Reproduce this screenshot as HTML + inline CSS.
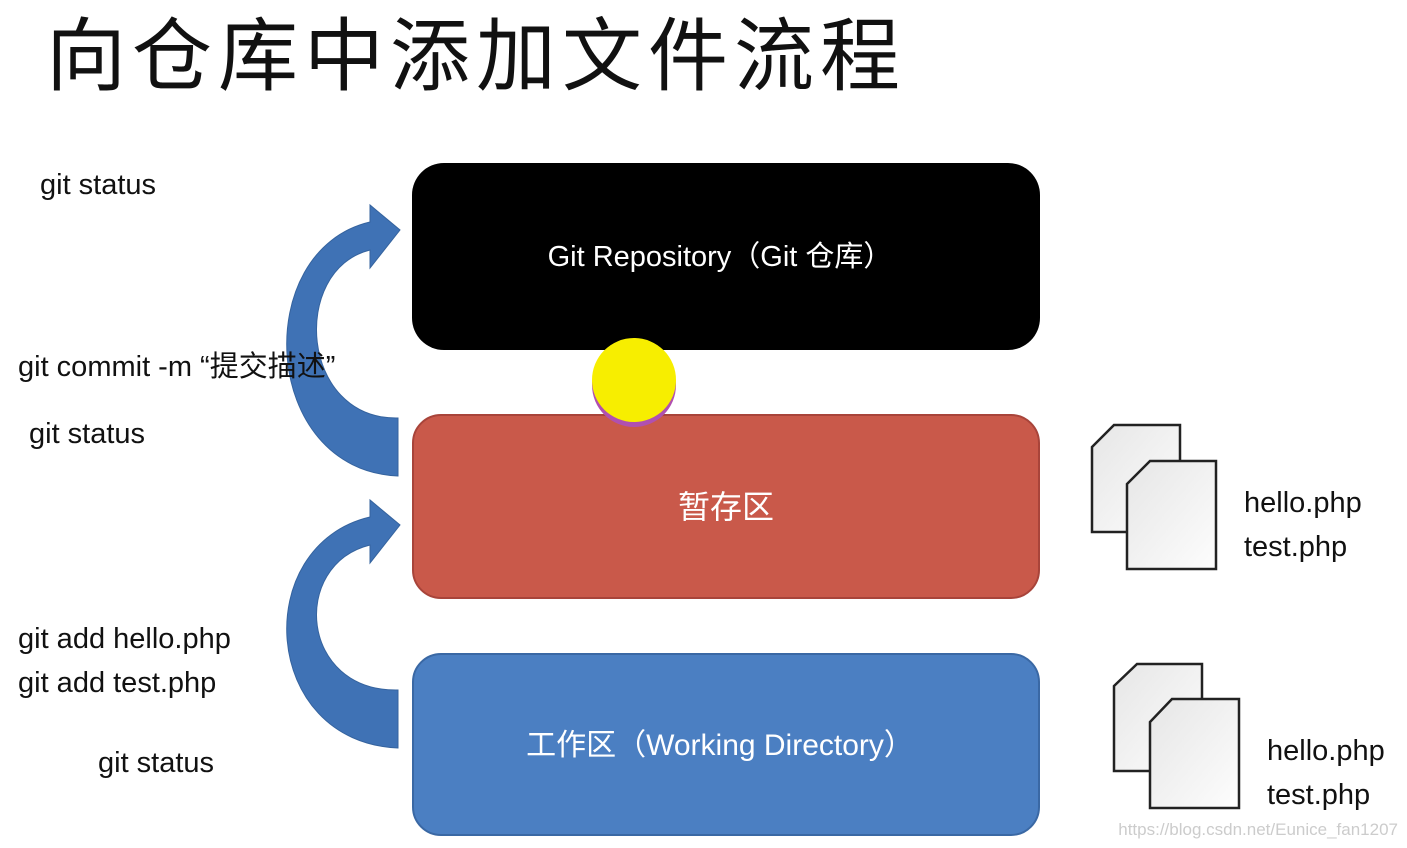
<!DOCTYPE html>
<html><head><meta charset="utf-8"><style>
html,body{margin:0;padding:0;background:#fff;width:1407px;height:848px;overflow:hidden}
svg{display:block}
text{font-family:"Liberation Sans","Noto Sans CJK SC",sans-serif}
</style></head><body>
<svg width="1407" height="848" viewBox="0 0 1407 848">
<defs>
<linearGradient id="pg" x1="0" y1="0" x2="1" y2="1"><stop offset="0" stop-color="#e6e6e6"/><stop offset="1" stop-color="#fdfdfd"/></linearGradient>
</defs>
<text x="46" y="84" font-size="80" fill="#111" font-family="Noto Sans CJK SC, sans-serif" letter-spacing="6">向仓库中添加文件流程</text>

<rect x="412" y="163" width="628" height="187" rx="32" fill="#000"/>
<text x="720" y="266" font-size="29" fill="#fff" text-anchor="middle">Git Repository（Git 仓库）</text>
<rect x="413" y="415" width="626" height="183" rx="28" fill="#c9594a" stroke="#a8443a" stroke-width="2"/>
<text x="726" y="518" font-size="32" fill="#fff" text-anchor="middle">暂存区</text>
<rect x="413" y="654" width="626" height="181" rx="28" fill="#4b7fc2" stroke="#3a68a4" stroke-width="2"/>
<text x="720" y="755" font-size="30" fill="#fff" text-anchor="middle">工作区（Working Directory）</text>

<path d="M398,476 C260,470 250,250 370,222 L370,205 L400,230 L370,268 L370,250 C290,270 300,420 398,418 Z" fill="#3f72b5" stroke="#35639e" stroke-width="1"/>
<path d="M398,748 C260,742 250,545 370,517 L370,500 L400,525 L370,563 L370,545 C290,565 300,692 398,690 Z" fill="#3f72b5" stroke="#35639e" stroke-width="1"/>

<circle cx="634" cy="385" r="42" fill="#b050b0"/>
<circle cx="634" cy="380" r="42" fill="#f7ee00"/>

<g font-size="29" fill="#111">
<text x="40" y="194">git status</text>
<text x="18" y="376">git commit -m “提交描述”</text>
<text x="29" y="443">git status</text>
<text x="18" y="648">git add hello.php</text>
<text x="18" y="692">git add test.php</text>
<text x="98" y="772">git status</text>
<text x="1244" y="512">hello.php</text>
<text x="1244" y="556">test.php</text>
<text x="1267" y="760">hello.php</text>
<text x="1267" y="804">test.php</text>
</g>

<g stroke="#222" stroke-width="2.5" fill="url(#pg)">
<path d="M1114,425 L1180,425 L1180,532 L1092,532 L1092,447 Z"/>
<path d="M1150,461 L1216,461 L1216,569 L1127,569 L1127,484 Z"/>
<path d="M1137,664 L1202,664 L1202,771 L1114,771 L1114,686 Z"/>
<path d="M1172,699 L1239,699 L1239,808 L1150,808 L1150,722 Z"/>
</g>
<text x="1398" y="835" font-size="17" fill="#ccc" text-anchor="end">https://blog.csdn.net/Eunice_fan1207</text>
</svg>
</body></html>
